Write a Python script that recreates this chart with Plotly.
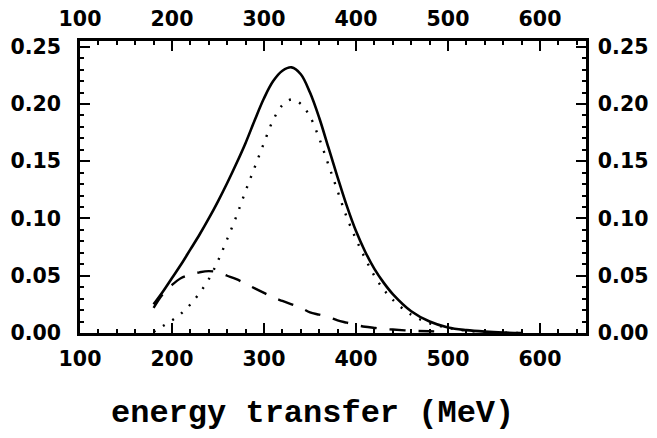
import plotly.graph_objects as go

# energy transfer grid (MeV)
energy = [180, 190, 200, 210, 220, 230, 240, 250, 260, 270, 280, 290, 300, 310,
          320, 330, 340, 350, 360, 370, 380, 390, 400, 410, 420, 430, 440, 460,
          480, 500, 520, 540, 560, 580]

total = [0.025, 0.036, 0.048, 0.060, 0.073, 0.086, 0.100, 0.115, 0.131, 0.148,
         0.166, 0.186, 0.205, 0.220, 0.229, 0.232, 0.226, 0.210, 0.188, 0.162,
         0.136, 0.111, 0.089, 0.071, 0.056, 0.044, 0.034, 0.019, 0.010, 0.0048,
         0.0025, 0.0012, 0.0004, 0.0]

dotted = [0.001, 0.006, 0.011, 0.017, 0.025, 0.035, 0.047, 0.063, 0.082, 0.102,
          0.124, 0.145, 0.166, 0.186, 0.199, 0.204, 0.200, 0.189, 0.170, 0.147,
          0.124, 0.101, 0.082, 0.065, 0.050, 0.038, 0.029, 0.016, 0.0085, 0.0045,
          0.002, 0.001, 0.0003, 0.0]

dashed_e = [180, 190, 200, 210, 220, 230, 240, 250, 260, 270, 280, 290, 300, 310,
            320, 330, 340, 350, 360, 370, 380, 390, 400, 410, 420, 430, 440, 460,
            480, 500]
dashed = [0.022, 0.034, 0.042, 0.048, 0.051, 0.053, 0.054, 0.053, 0.050, 0.047,
          0.043, 0.039, 0.035, 0.031, 0.028, 0.025, 0.022, 0.018, 0.016, 0.014,
          0.011, 0.009, 0.007, 0.0055, 0.0045, 0.0035, 0.003, 0.002, 0.0015, 0.001]

x_ticks = [100, 200, 300, 400, 500, 600]
y_ticks = [0.00, 0.05, 0.10, 0.15, 0.20, 0.25]
y_labels = ["0.00", "0.05", "0.10", "0.15", "0.20", "0.25"]
x_title = "energy transfer (MeV)"

fig = go.Figure()
fig.add_trace(go.Scatter(x=energy, y=total, mode="lines", line_shape="spline",
                         line=dict(color="black", width=2.6), showlegend=False))
fig.add_trace(go.Scatter(x=energy, y=dotted, mode="lines", line_shape="spline",
                         line=dict(color="black", width=2.4, dash="2px,9px"), showlegend=False))
fig.add_trace(go.Scatter(x=dashed_e, y=dashed, mode="lines", line_shape="spline",
                         line=dict(color="black", width=2.4, dash="16px,13px"), showlegend=False))
fig.add_trace(go.Scatter(x=[None], y=[None], xaxis="x2", yaxis="y2", showlegend=False,
                         hoverinfo="skip"))

tickfont = dict(family="DejaVu Sans", size=20.5, color="black", weight="bold")
minor_x = dict(ticks="inside", ticklen=4, tickwidth=2, dtick=20, tickcolor="black", showgrid=False)
minor_y = dict(ticks="inside", ticklen=4, tickwidth=2, dtick=0.01, tickcolor="black", showgrid=False)

common_x = dict(range=[100, 650], tickvals=x_ticks, ticks="inside", ticklen=10, tickwidth=2,
                tickcolor="black", showline=True, linewidth=2.5, linecolor="black",
                showgrid=False, zeroline=False, tickfont=tickfont, minor=minor_x,
                automargin=False)
common_y = dict(range=[0, 0.255], tickvals=y_ticks, ticktext=y_labels, ticks="inside",
                ticklen=10, tickwidth=2, tickcolor="black", showline=True, linewidth=2.5,
                linecolor="black", showgrid=False, zeroline=False, tickfont=tickfont,
                minor=minor_y, automargin=False)

# page body has an 8px default margin, so the figure is sized to compensate
fig.update_layout(
    width=649, height=430,
    margin=dict(l=72, r=71, t=33, b=105),
    paper_bgcolor="white", plot_bgcolor="white",
    xaxis=dict(**common_x, side="bottom", ticklabelstandoff=6),
    yaxis=dict(**common_y, side="left", ticklabelstandoff=12),
    xaxis2=dict(**common_x, side="top", overlaying="x", anchor="y2", ticklabelstandoff=4),
    yaxis2=dict(**common_y, side="right", overlaying="y", anchor="x2", ticklabelstandoff=5),
    annotations=[dict(text=x_title, xref="paper", yref="paper", x=0.46, y=-0.275,
                      xanchor="center", yanchor="middle", showarrow=False,
                      font=dict(family="Liberation Mono", size=32, color="black", weight="bold"))],
)

fig.write_html("out.html")
